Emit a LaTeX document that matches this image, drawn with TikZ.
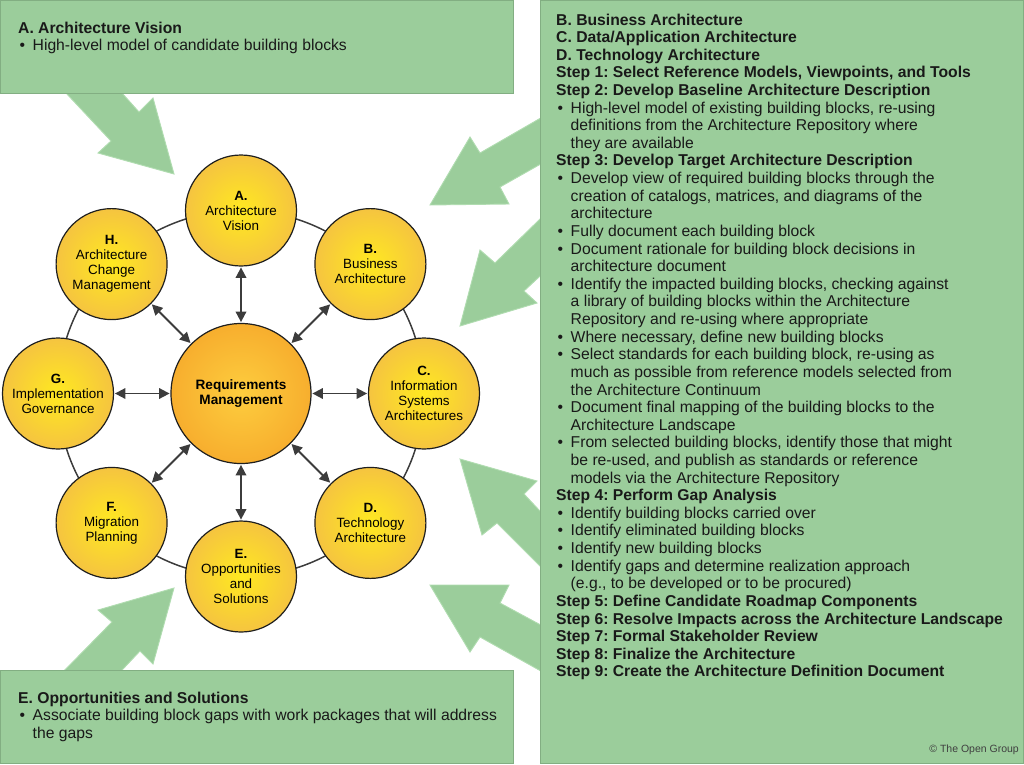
\documentclass[tikz,border=0pt]{standalone}
\usepackage{fontspec}
\setmainfont{Liberation Sans}
\usetikzlibrary{arrows.meta}
\frenchspacing
\definecolor{boxgreen}{HTML}{9BCD9B}
\definecolor{boxedge}{HTML}{82AE82}
\definecolor{arredge}{HTML}{B0DCB0}
\definecolor{ringgray}{HTML}{3C3C3C}
\definecolor{yin}{HTML}{FFE920}
\definecolor{yout}{HTML}{F5C440}
\definecolor{oin}{HTML}{FDCD3E}
\definecolor{oout}{HTML}{F7AE2E}
\newcommand\bl{\makebox[14.5pt][l]{\hspace{1.5pt}\textbullet}}
\newcommand\ct{\hspace*{14.5pt}}
\tikzset{
  phase/.style={circle, minimum size=111pt, inner sep=0pt, draw=black!88, line width=1.2pt,
    shade, inner color=yin, outer color=yout, align=center, font=\fontsize{13.4}{15}\selectfont},
  hub/.style={circle, minimum size=140pt, inner sep=0pt, draw=black!88, line width=1.2pt,
    shade, inner color=oin, outer color=oout, align=center, font=\bfseries\fontsize{13.6}{15.5}\selectfont},
  ring/.style={draw=ringgray, line width=1.5pt},
  link/.style={draw=ringgray, line width=1.8pt,
    {Triangle[length=10.5pt,width=10.5pt]}-{Triangle[length=10.5pt,width=10.5pt]},
    shorten <=0.8pt, shorten >=0.8pt},
  panel/.style={fill=boxgreen, draw=boxedge, line width=0.9pt},
  bigarrow/.style={fill=boxgreen, draw=arredge, line width=0.9pt, line join=miter},
  ptext/.style={anchor=base west, inner sep=0pt, text=black!90, font=\fontsize{15.7}{17.6}\selectfont},
}
\begin{document}
\begin{tikzpicture}[x=1pt, y=-1pt]
\useasboundingbox (0,0) rectangle (1024,764);

% big green arrows
\fill[bigarrow] (58.5,85) -- (114.8,85) -- (139,112) -- (153,98) -- (174,174) -- (98,153) -- (111,141) -- cycle;
\fill[bigarrow] (57,678) -- (114.5,678) -- (140,651) -- (153,664) -- (174,588) -- (98,610) -- (112,622) -- cycle;
\fill[bigarrow] (548,113.8) -- (480,153) -- (470,137) -- (430,205) -- (509,204) -- (500,187) -- (548,159.9) -- cycle;
\fill[bigarrow] (548,211.2) -- (495,263) -- (480,250) -- (460,326) -- (537,303) -- (524,291) -- (548,268.6) -- cycle;
\fill[bigarrow] (548,519.6) -- (524,494) -- (537,481) -- (460,459) -- (482,535) -- (497,523) -- (548,574) -- cycle;
\fill[bigarrow] (548,628.9) -- (500,603) -- (509,585) -- (430,585) -- (470,652) -- (480,637) -- (548,675) -- cycle;

% panels
\draw[panel] (0.5,0.5) rectangle (513.5,93);
\draw[panel] (0.5,670) rectangle (513.5,763.5);
\draw[panel] (540,0.5) rectangle (1023.5,763.5);

% ring
\coordinate (ctr) at (241,393.5);
\draw[ring] (ctr) circle[radius=183pt];

% circles
\node[hub] (rm) at (ctr) {Requirements\\Management};
\node[phase] (pA) at (241,210.5) {\textbf{A.}\\Architecture\\Vision};
\node[phase] (pB) at (370.4,264.1) {\textbf{B.}\\Business\\Architecture};
\node[phase] (pC) at (424,393.5) {\textbf{C.}\\Information\\Systems\\Architectures};
\node[phase] (pD) at (370.4,522.9) {\textbf{D.}\\Technology\\Architecture};
\node[phase] (pE) at (241,576.5) {\textbf{E.}\\Opportunities\\and\\Solutions};
\node[phase] (pF) at (111.6,522.9) {\textbf{F.}\\Migration\\Planning};
\node[phase] (pG) at (58,393.5) {\textbf{G.}\\Implementation\\Governance};
\node[phase] (pH) at (111.6,264.1) {\textbf{H.}\\Architecture\\Change\\Management};

\foreach \p in {pA,pB,pC,pD,pE,pF,pG,pH}{\draw[link] (rm) -- (\p);}

% top-left text
\node[ptext] (avt) at (18,33) {\bfseries A. Architecture Vision};
\node[ptext] (avb) at (18,50.6) {\bl High-level model of candidate building blocks};

% bottom-left text
\node[ptext] (eot) at (18,703) {\bfseries E. Opportunities and Solutions};
\node[ptext] (eob1) at (18,720.6) {\bl Associate building block gaps with work packages that will address};
\node[ptext] (eob2) at (18,738.2) {\ct the gaps};

% right panel text
\foreach \txt [count=\i] in {
 {\bfseries B. Business Architecture},
 {\bfseries C. Data/Application Architecture},
 {\bfseries D. Technology Architecture},
 {\bfseries Step 1: Select Reference Models, Viewpoints, and Tools},
 {\bfseries Step 2: Develop Baseline Architecture Description},
 {\bl High-level model of existing building blocks, re-using},
 {\ct definitions from the Architecture Repository where},
 {\ct they are available},
 {\bfseries Step 3: Develop Target Architecture Description},
 {\bl Develop view of required building blocks through the},
 {\ct creation of catalogs, matrices, and diagrams of the},
 {\ct architecture},
 {\bl Fully document each building block},
 {\bl Document rationale for building block decisions in},
 {\ct architecture document},
 {\bl Identify the impacted building blocks, checking against},
 {\ct a library of building blocks within the Architecture},
 {\ct Repository and re-using where appropriate},
 {\bl Where necessary, define new building blocks},
 {\bl Select standards for each building block, re-using as},
 {\ct much as possible from reference models selected from},
 {\ct the Architecture Continuum},
 {\bl Document final mapping of the building blocks to the},
 {\ct Architecture Landscape},
 {\bl From selected building blocks, identify those that might},
 {\ct be re-used, and publish as standards or reference},
 {\ct models via the Architecture Repository},
 {\bfseries Step 4: Perform Gap Analysis},
 {\bl Identify building blocks carried over},
 {\bl Identify eliminated building blocks},
 {\bl Identify new building blocks},
 {\bl Identify gaps and determine realization approach},
 {\ct (e.g., to be developed or to be procured)},
 {\bfseries Step 5: Define Candidate Roadmap Components},
 {\bfseries Step 6: Resolve Impacts across the Architecture Landscape},
 {\bfseries Step 7: Formal Stakeholder Review},
 {\bfseries Step 8: Finalize the Architecture},
 {\bfseries Step 9: Create the Architecture Definition Document}
}{\node[ptext] (r\i) at (556,{25+(\i-1)*17.62}) {\txt};}

\node[anchor=base east, inner sep=0pt, text=black!75, font=\fontsize{10.5}{12}\selectfont] (cpy) at (1019,752) {\textcopyright\ The Open Group};
\end{tikzpicture}
\end{document}
